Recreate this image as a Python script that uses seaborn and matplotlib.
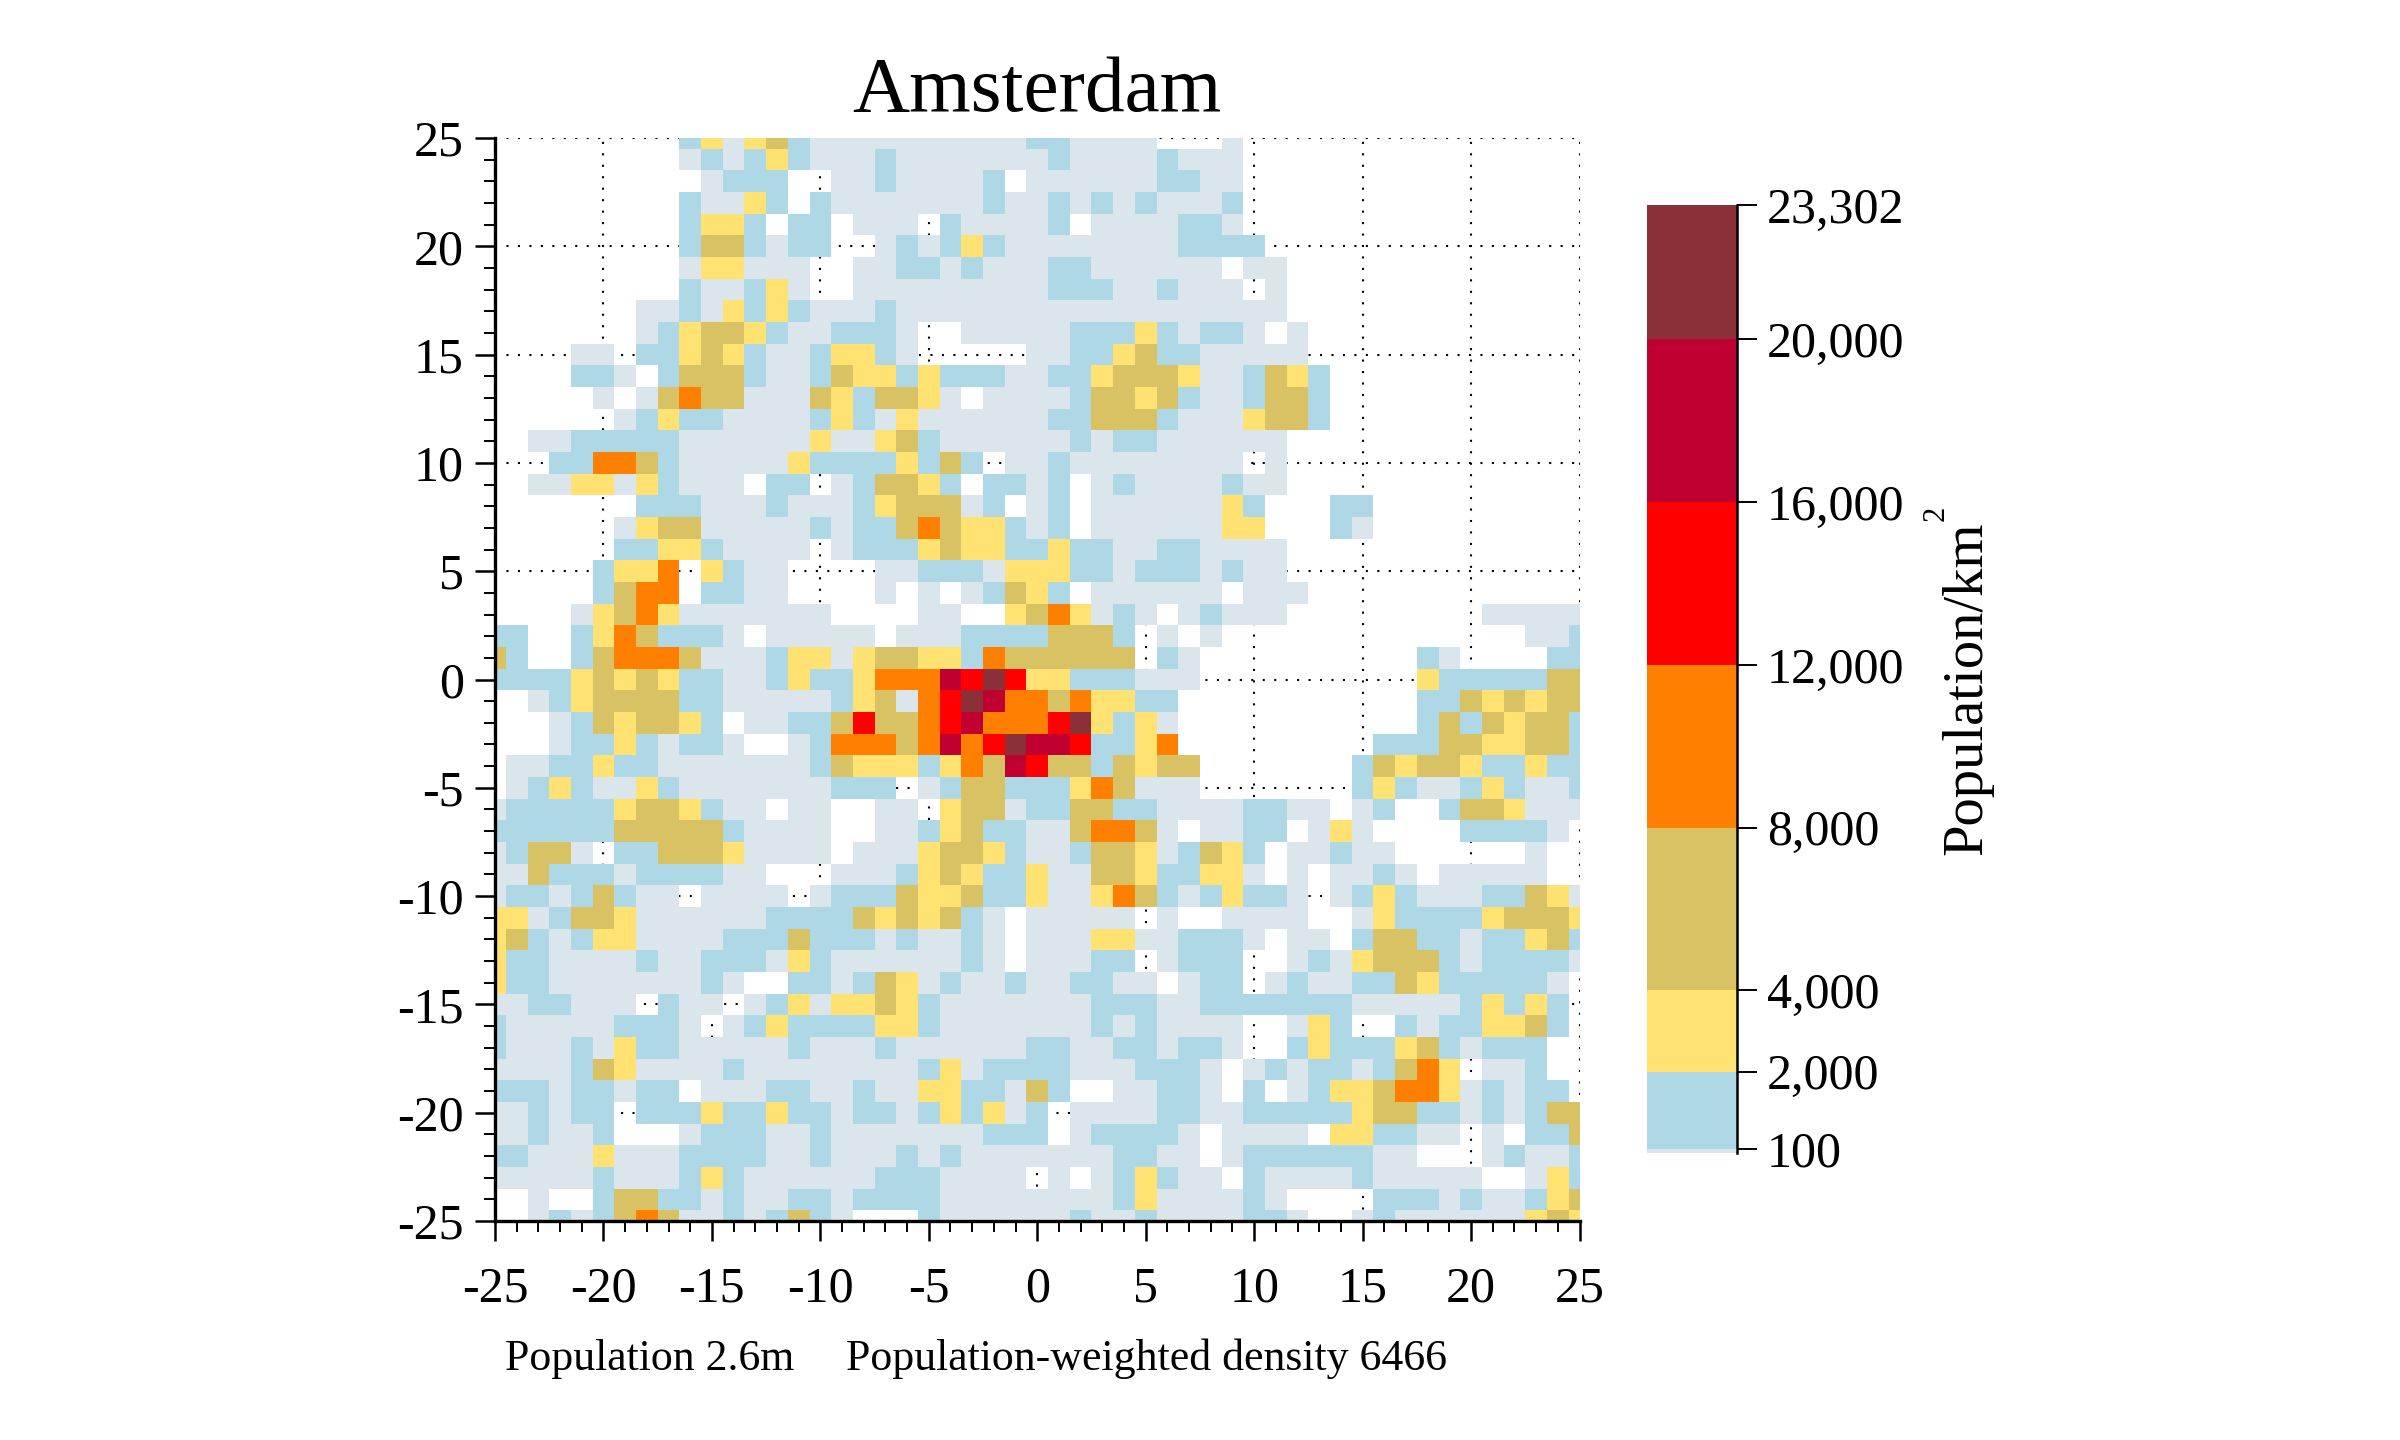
import numpy as np
import pandas as pd
import matplotlib
matplotlib.use("Agg")
import matplotlib.pyplot as plt
from matplotlib.colors import BoundaryNorm, ListedColormap
import seaborn as sns

# density band of each 1 km cell, one row per y from 25 down to -25
# groups: x = -25..-16, -15..-6, -5..4, 5..14, 15..24, 25
band_rows = [
    "0000000002 3134211111 1111122111 1000100000 0000000000 0",
    "0000000001 2123211121 1111112111 1211100000 0000000000 0",
    "0000000000 1222001121 1112011111 1221100000 0000000000 0",
    "0000000002 1132021111 1112112121 2111200000 0000000000 0",
    "0000000002 3320220111 0211112011 1122100000 0000000000 0",
    "0000000002 4421220012 1232111111 1122220000 0000000000 0",
    "0000000001 3311100112 2121112211 1111011000 0000000000 0",
    "0000000002 1123100111 1111112221 1211101000 0000000000 0",
    "0000000112 1323211121 1111111111 1111111000 0000000000 0",
    "0000000123 4432112221 0011111222 3212210100 0000000000 0",
    "0000110223 4321123321 0000011223 4221111100 0000000000 0",
    "0000221024 4421124332 3222112234 4431124320 0000000000 0",
    "0000010145 4411143244 3101111244 3421124420 0000000000 0",
    "0000001232 2111123213 1111112244 4211134420 0000000000 0",
    "0011222221 1111131134 2111111212 2111111000 0000000000 0",
    "0002255421 1111322223 2420112111 1111101000 0000000000 0",
    "0011331321 1102201244 3202212012 1111211000 0000000000 0",
    "0000000222 1112111234 4412012011 1111320002 2000000000 0",
    "0000001344 1111121224 5433212011 1111330002 1000000000 0",
    "0000002233 2111101222 3433223221 1221111000 0000000000 0",
    "0000023350 3211000011 2221333221 2221211000 0000000000 0",
    "0000024550 2211000010 1012432011 1111011100 0000000000 0",
    "0000134531 1111110000 1100345312 1012111000 0000001111 1",
    "2200235422 2101111101 1122224442 0101000000 0000000011 2",
    "4200245554 1112331344 3325444444 0210000000 0002100002 2",
    "2222343432 2112322355 5768633222 1110000000 0003222224 4",
    "0012344442 2111112341 5687554533 2200000000 0002243434 4",
    "0001243443 2011224644 5675556832 3100000000 0002424344 2",
    "0001223212 2100125554 5756877622 3500000000 0222443344 2",
    "0112232211 1111124333 2354764424 3440000000 2434432232 2",
    "0123211321 1111112220 1244222354 1110000000 2321123211 2",
    "1222223443 2110110011 0344122442 2111122110 1200244311 1",
    "2222224444 4211110011 2342211455 4101122013 1000022221 0",
    "1244102244 4311110111 3443211244 3124320112 1100000010 0",
    "1142221222 2110001112 3432231144 3223310101 1210111110 0",
    "1221242110 1111012224 3342231135 4212322101 2321112243 1",
    "3312443111 1112222434 3421011111 0100111100 1322223444 3",
    "3421233111 1222422212 1121011133 1122210110 2442212234 2",
    "3221111211 2221321111 1121011122 0122200121 3444212222 1",
    "3221111111 2100221243 1211211221 1012201211 2243222221 0",
    "1122111021 1012313343 2111111122 2112222222 1111123232 0",
    "2111112221 0123222233 2111111121 2111100132 0021223342 0",
    "2111213221 1111211121 1111122112 2122100232 2234212220 0",
    "1111243111 1211111111 2312222111 2221012122 1245301120 0",
    "2221221220 1112211211 3322142001 1221020123 3455312122 0",
    "1121220222 3223221221 2323120111 1221122222 3442212124 4",
    "1121120001 2221121111 1112220122 2210111103 3221101022 4",
    "2211131112 2221121112 1211111112 2110122222 2110001211 2",
    "1111121112 3211111122 2111101012 3211021111 2111110013 2",
    "0010024422 1211221222 2111111112 3111121000 0222121123 4",
    "0012124541 1212421000 2111111211 2111122100 1211111134 3",
]

x_km = list(range(-25, 26))
y_km = list(range(25, -26, -1))

# band edges and a typical density for each band, band 0 is empty land
band_edges = [0, 100, 2000, 4000, 8000, 12000, 16000, 20000, 23302]
band_density = [0, 50, 1000, 3000, 6000, 10000, 14000, 18000, 21500]
band_colors = ["#dae6ec", "#aed8e6", "#ffe271", "#d9c264",
               "#ff8000", "#ff0000", "#bf0030", "#8b3039"]

cbar_ticks = [100, 2000, 4000, 8000, 12000, 16000, 20000, 23302]
axis_ticks = [-25, -20, -15, -10, -5, 0, 5, 10, 15, 20, 25]

levels = [[int(c) for c in row.replace(" ", "")] for row in band_rows]
density = pd.DataFrame(np.array(band_density)[np.array(levels)], index=y_km, columns=x_km)

sns.set_style("white")
plt.rcParams["font.family"] = ["Liberation Serif", "DejaVu Serif"]
plt.rcParams["text.color"] = "black"
plt.rcParams["axes.labelcolor"] = "black"
plt.rcParams["xtick.color"] = "black"
plt.rcParams["ytick.color"] = "black"

W, H = 2400, 1440
fig = plt.figure(figsize=(12, 7.2), dpi=200)
ax = fig.add_axes([495 / W, 1 - 1221 / H, 1084.5 / W, 1083 / H])
cax = fig.add_axes([1647 / W, 1 - 1153 / H, 90 / W, 948 / H])

sns.heatmap(
    density,
    mask=density == 0,
    ax=ax,
    cmap=ListedColormap(band_colors),
    norm=BoundaryNorm(band_edges, len(band_colors)),
    cbar_ax=cax,
    cbar_kws={"ticks": cbar_ticks, "spacing": "proportional"},
    xticklabels=False,
    yticklabels=False,
)

# cells are centred on whole km, so the outer ones are cut in half
ax.set_xlim(0.5, 50.5)
ax.set_ylim(50.5, 0.5)

major_x = [x_km.index(v) + 0.5 for v in axis_ticks]
major_y = [y_km.index(v) + 0.5 for v in axis_ticks]
ax.set_xticks(major_x)
ax.set_xticklabels([str(v) for v in axis_ticks], fontsize=18)
ax.set_yticks(major_y)
ax.set_yticklabels([str(v) for v in axis_ticks], fontsize=18, rotation=0)
ax.set_xticks(np.arange(51) + 0.5, minor=True)
ax.set_yticks(np.arange(51) + 0.5, minor=True)
ax.tick_params(which="major", length=7.2, width=0.9, color="black", left=True, bottom=True)
ax.tick_params(which="minor", length=3.8, width=0.7, color="black", left=True, bottom=True)
ax.tick_params(axis="x", which="major", pad=9)
ax.tick_params(axis="y", which="major", pad=4)
ax.set_xlabel("")
ax.set_ylabel("")

ax.set_axisbelow(True)
ax.grid(True, which="major", color="black", linewidth=0.75, linestyle=(0, (1, 4.5)))
for side in ["top", "right"]:
    ax.spines[side].set_visible(False)
for side in ["left", "bottom"]:
    ax.spines[side].set_visible(True)
    ax.spines[side].set_color("black")
    ax.spines[side].set_linewidth(1.2)

ax.set_title("Amsterdam", fontsize=28.5, pad=9.7, x=0.5, color="black")

cbar = ax.collections[0].colorbar
cbar.outline.set_visible(False)
cbar.set_ticklabels([f"{v:,}" for v in cbar_ticks])
cax.spines["right"].set_visible(True)
cax.spines["right"].set_color("black")
cax.spines["right"].set_linewidth(0.9)
cax.tick_params(length=7.2, width=0.7, color="black", labelsize=18, pad=3.5, right=True)
cax.minorticks_off()

fig.text(1967 / W, 1 - 688 / H, "Population/km", fontsize=20.4, rotation=90, ha="center", va="center")
fig.text(1936 / W, 1 - 513 / H, "2", fontsize=11, rotation=90, ha="center", va="center")

fig.text(505 / W, 1 - 1359 / H, "Population 2.6m", fontsize=15.8, va="center")
fig.text(846 / W, 1 - 1359 / H, "Population-weighted density 6466", fontsize=15.8, va="center")

fig.savefig("out.png", dpi=200, facecolor="white")
